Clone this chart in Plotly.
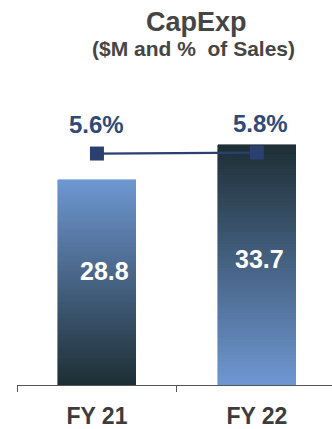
import numpy as np
import plotly.graph_objects as go

# Data
categories = ["FY 21", "FY 22"]
capex = [28.8, 33.7]          # $M
pct_sales = [5.6, 5.8]        # % of sales

LIGHT = np.array([0x6f, 0x97, 0xd2])
DARK = np.array([0x1d, 0x2e, 0x34])
FONT = "Liberation Sans, Arial"

def mix(t):
    c = (LIGHT * (1 - t) + DARK * t).round().astype(int)
    return f"rgb({c[0]},{c[1]},{c[2]})"

fig = go.Figure()

# Gradient bars: each bar is stacked from thin slices whose colours blend
# between light blue and dark slate (FY21 dark at bottom, FY22 dark at top).
N = 80
for k in range(N):
    t = (k + 0.5) / N  # 0 at base, 1 at top
    colors = [mix(1 - t), mix(t)]
    fig.add_trace(go.Bar(
        x=categories,
        y=[v / N for v in capex],
        width=0.49,
        marker=dict(color=colors, line=dict(width=0.6, color=colors)),
        hoverinfo="skip",
        showlegend=False,
    ))

# % of sales line on a secondary axis
fig.add_trace(go.Scatter(
    x=categories, y=pct_sales, yaxis="y2",
    mode="lines+markers",
    line=dict(color="#2b406e", width=2.2),
    marker=dict(symbol="square", size=14, color="#2b406e"),
    hoverinfo="skip", showlegend=False,
))

W, H = 332, 429
L, R, T, B = 17, 0, 130, 38
pw, ph = W - L - R, H - T - B

annotations = []
# Bar value labels
for cat, v, dx, dy in zip(categories, capex, [8, 3], [12, 6]):
    annotations.append(dict(
        x=cat, y=v / 2, yref="y", text=f"{v:.1f}", showarrow=False,
        xshift=dx, yshift=dy,
        font=dict(family=FONT, size=25, color="white", weight="bold"),
    ))
# Percentage labels
for cat, p, dx in zip(categories, pct_sales, [0, 4]):
    annotations.append(dict(
        x=cat, y=p, yref="y2", text=f"{p:.1f}%", showarrow=False,
        yshift=29, xshift=dx,
        font=dict(family=FONT, size=24, color="#2f4a78", weight="bold"),
    ))
# Title and subtitle (positions given in pixels, converted to paper coords)
for txt, px, py, size in [("CapExp", 196, 19, 27),
                          ("($M and %  of Sales)", 193, 47, 21)]:
    annotations.append(dict(
        x=(px - L) / pw, y=(H - B - py) / ph, xref="paper", yref="paper",
        xanchor="center", yanchor="middle",
        text=txt, showarrow=False,
        font=dict(family=FONT, size=size, color="#454545", weight="bold"),
    ))

fig.update_layout(
    width=W, height=H,
    margin=dict(l=L, r=R, t=T, b=B, pad=0),
    barmode="stack", bargap=0,
    plot_bgcolor="white", paper_bgcolor="white",
    annotations=annotations,
    xaxis=dict(
        type="category", range=[-0.5, 1.47],
        tickson="boundaries", ticks="outside", ticklen=6, tickcolor="#555",
        ticklabelstandoff=10,
        showline=True, linecolor="#555", linewidth=1,
        tickfont=dict(family=FONT, size=23, color="#3c3c3c", weight="bold"),
        showgrid=False, zeroline=False,
    ),
    yaxis=dict(range=[0, 261 / 7.28], visible=False, showgrid=False, zeroline=False),
    yaxis2=dict(range=[-41.6, 10.4], overlaying="y", visible=False, showgrid=False, zeroline=False),
)

fig.write_html("out.html")
